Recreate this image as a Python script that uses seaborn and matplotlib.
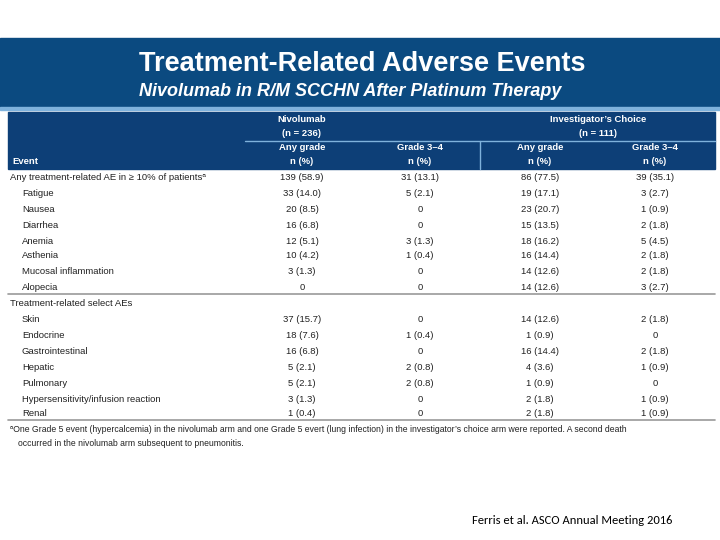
#table of treatment-related adverse events
import matplotlib.pyplot as plt
import matplotlib.patches as patches
import seaborn as sns

sns.set_style("white")

events = ["Any treatment-related AE in \u2265 10% of patients\u1d43", "Fatigue", "Nausea", "Diarrhea",
          "Anemia", "Asthenia", "Mucosal inflammation", "Alopecia",
          "Treatment-related select AEs", "Skin", "Endocrine", "Gastrointestinal",
          "Hepatic", "Pulmonary", "Hypersensitivity/infusion reaction", "Renal"]
nivo_any = ["139 (58.9)", "33 (14.0)", "20 (8.5)", "16 (6.8)", "12 (5.1)", "10 (4.2)", "3 (1.3)", "0",
            "", "37 (15.7)", "18 (7.6)", "16 (6.8)", "5 (2.1)", "5 (2.1)", "3 (1.3)", "1 (0.4)"]
nivo_g34 = ["31 (13.1)", "5 (2.1)", "0", "0", "3 (1.3)", "1 (0.4)", "0", "0",
            "", "0", "1 (0.4)", "0", "2 (0.8)", "2 (0.8)", "0", "0"]
ic_any = ["86 (77.5)", "19 (17.1)", "23 (20.7)", "15 (13.5)", "18 (16.2)", "16 (14.4)", "14 (12.6)", "14 (12.6)",
          "", "14 (12.6)", "1 (0.9)", "16 (14.4)", "4 (3.6)", "1 (0.9)", "2 (1.8)", "2 (1.8)"]
ic_g34 = ["39 (35.1)", "3 (2.7)", "1 (0.9)", "2 (1.8)", "5 (4.5)", "2 (1.8)", "2 (1.8)", "3 (2.7)",
          "", "2 (1.8)", "0", "2 (1.8)", "1 (0.9)", "0", "1 (0.9)", "1 (0.9)"]
row_y = [176, 192, 208, 224, 240, 255, 271, 287, 302, 318, 334, 350, 366, 382, 398, 413]

fig = plt.figure(figsize=(7.2, 5.4), dpi=100)
ax = fig.add_axes([0, 0, 1, 1])
ax.set_xlim(0, 720)
ax.set_ylim(540, 0)
ax.axis("off")

    #title band
ax.add_patch(patches.Rectangle((0, 38), 720, 70, color="#0b4a80"))
ax.add_patch(patches.Rectangle((0, 107), 720, 3, color="#7fb2dc"))
ax.text(362, 64, "Treatment-Related Adverse Events", color="white", fontsize=19.5,
        fontweight="bold", ha="center", va="center", family="Liberation Sans")
ax.text(350, 92, "Nivolumab in R/M SCCHN After Platinum Therapy", color="white", fontsize=13,
        fontweight="bold", style="italic", ha="center", va="center", family="Liberation Sans")

    #table header
ax.add_patch(patches.Rectangle((8, 112), 707, 57, color="#0d3f77"))
ax.plot([245, 715], [141, 141], color="#7fb2dc", lw=1)
ax.plot([480, 480], [141, 169], color="#7fb2dc", lw=1)
hdr = dict(color="white", fontsize=6.8, fontweight="bold", ha="center", va="center_baseline",
           family="Liberation Sans")
ax.text(302, 118, "Nivolumab", **hdr)
ax.text(302, 132, "(n = 236)", **hdr)
ax.text(598, 118, "Investigator\u2019s Choice", **hdr)
ax.text(598, 132, "(n = 111)", **hdr)
cols = [302, 420, 540, 655]
for c in cols:
    ax.text(c, 161, "n (%)", **hdr)
for c, lab in zip(cols, ["Any grade", "Grade 3\u20134", "Any grade", "Grade 3\u20134"]):
    ax.text(c, 147, lab, **hdr)
ax.text(12, 161, "Event", **{**hdr, "ha": "left"})

    #body rows
body = dict(fontsize=6.8, va="center_baseline", color="#222222", family="DejaVu Sans")
body["family"] = "Liberation Sans"
for i, y in enumerate(row_y):
    indent = 8 if i in (0, 8) else 20
    ax.text(indent + 2, y, events[i], ha="left", **body)
    for c, vals in zip(cols, [nivo_any, nivo_g34, ic_any, ic_g34]):
        ax.text(c, y, vals[i], ha="center", **body)
for y in [294, 420]:
    ax.plot([8, 715], [y, y], color="#999999", lw=1.2)

ax.text(10, 428, "\u1d43One Grade 5 event (hypercalcemia) in the nivolumab arm and one Grade 5 evert (lung infection) "
        "in the investigator\u2019s choice arm were reported. A second death", fontsize=6.2,
        va="center_baseline", color="#222222", family="Liberation Sans")
ax.text(18, 443, "occurred in the nivolumab arm subsequent to pneumonitis.", fontsize=6.2,
        va="center_baseline", color="#222222", family="Liberation Sans")

ax.text(472, 521, "Ferris et al. ASCO Annual Meeting 2016", fontsize=9, va="center",
        color="black", family="Carlito")

fig.savefig("out.png", dpi=100)
